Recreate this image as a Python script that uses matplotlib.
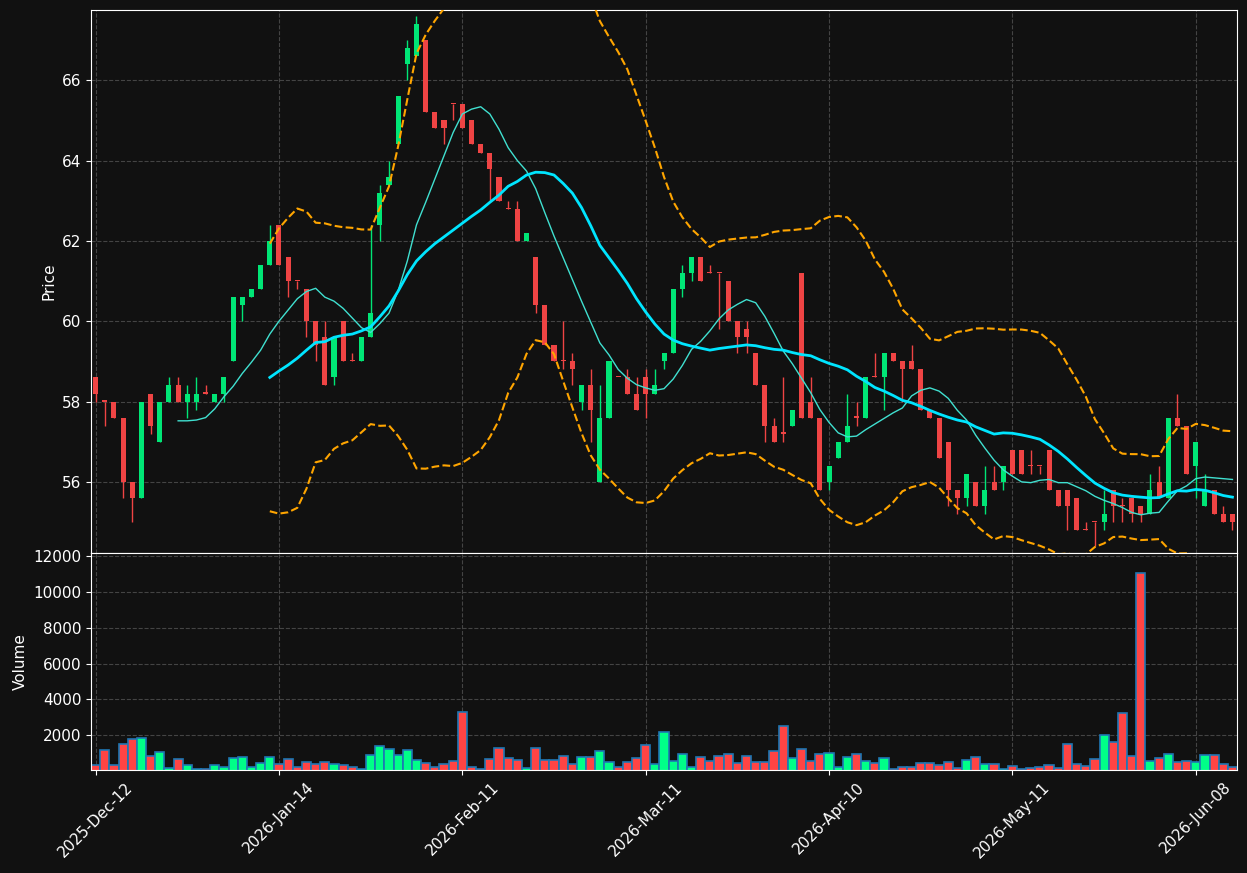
import numpy as np
import pandas as pd
import matplotlib
matplotlib.use("Agg")
import matplotlib.pyplot as plt

# OHLC (one candle per trading day)
opens = [58.6, 58.0, 58.0, 57.6, 56.0, 55.6, 58.2, 57.0, 58.0, 58.4,
         58.0, 58.0, 58.2, 58.0, 58.2, 59.0, 60.4, 60.6, 60.8, 61.4,
         62.4, 61.6, 61.0, 60.8, 60.0, 59.6, 58.6, 60.0, 59.0, 59.0,
         59.6, 62.4, 63.4, 64.4, 66.4, 66.6, 67.0, 65.2, 65.0, 65.4,
         65.4, 65.0, 64.4, 64.2, 63.6, 62.8, 62.8, 62.0, 61.6, 60.4,
         59.4, 59.0, 59.0, 58.0, 58.4, 56.0, 57.6, 58.6, 58.6, 58.2,
         58.6, 58.2, 59.0, 59.2, 60.8, 61.2, 61.6, 61.2, 61.2, 61.0,
         60.0, 59.8, 59.2, 58.4, 57.4, 57.2, 57.4, 61.2, 58.0, 57.6,
         56.0, 56.6, 57.0, 57.6, 57.6, 58.6, 58.6, 59.2, 59.0, 59.0,
         58.8, 57.8, 57.6, 57.0, 55.8, 55.6, 56.0, 55.4, 56.0, 56.0,
         56.8, 56.8, 56.4, 56.4, 56.8, 55.8, 55.8, 55.6, 54.8, 55.0,
         55.0, 55.8, 55.4, 55.6, 55.4, 55.2, 56.0, 55.6, 57.6, 57.4,
         56.4, 55.4, 55.8, 55.2, 55.2]
highs = [58.6, 58.0, 58.0, 57.6, 56.0, 58.0, 58.2, 58.0, 58.6, 58.6,
         58.4, 58.6, 58.4, 58.2, 58.6, 60.6, 60.6, 60.8, 61.4, 62.4,
         62.4, 61.6, 61.0, 60.8, 60.0, 60.0, 59.6, 60.0, 59.2, 59.6,
         62.4, 63.4, 64.0, 65.6, 67.0, 67.6, 67.0, 65.2, 65.0, 65.4,
         65.4, 65.0, 64.4, 64.2, 63.6, 63.0, 63.0, 62.2, 61.6, 60.4,
         59.4, 60.0, 59.2, 58.4, 58.8, 58.4, 59.0, 58.6, 58.8, 58.6,
         58.8, 58.8, 59.2, 60.8, 61.4, 61.6, 61.6, 61.4, 61.2, 61.0,
         60.0, 60.0, 59.2, 58.4, 57.6, 58.6, 57.8, 61.2, 58.6, 57.6,
         56.4, 57.0, 58.2, 58.0, 58.6, 59.2, 59.2, 59.2, 59.0, 59.4,
         58.8, 57.8, 57.6, 57.0, 55.8, 56.2, 56.0, 56.4, 56.4, 56.4,
         56.8, 56.8, 56.8, 56.4, 56.8, 55.8, 55.8, 55.6, 55.0, 55.0,
         55.8, 55.8, 55.6, 55.6, 55.4, 56.2, 56.4, 57.6, 58.2, 57.4,
         57.0, 56.2, 55.8, 55.4, 55.2]
lows = [58.0, 57.4, 57.6, 55.6, 55.0, 55.6, 57.2, 57.0, 58.0, 58.0,
        57.6, 57.8, 58.2, 58.0, 58.0, 59.0, 60.0, 60.6, 60.8, 61.4,
        61.4, 60.6, 60.8, 59.6, 59.0, 58.4, 58.4, 59.0, 59.0, 59.0,
        59.6, 62.0, 63.4, 64.4, 66.0, 66.6, 65.2, 64.8, 64.4, 65.0,
        64.8, 64.4, 64.2, 63.0, 63.0, 62.8, 62.0, 62.0, 60.2, 59.4,
        59.0, 58.8, 58.4, 57.8, 57.0, 56.0, 57.6, 58.6, 58.2, 57.8,
        57.6, 58.2, 58.8, 59.2, 60.6, 61.0, 61.0, 61.2, 59.8, 60.0,
        59.2, 59.2, 58.4, 57.0, 57.0, 57.0, 57.4, 57.6, 57.6, 55.8,
        55.8, 56.6, 57.0, 57.4, 57.6, 58.6, 57.8, 59.0, 58.0, 58.8,
        57.8, 57.6, 56.6, 55.4, 55.2, 55.4, 55.4, 55.2, 55.8, 55.8,
        56.2, 56.2, 56.2, 56.2, 55.8, 55.4, 54.8, 54.8, 54.8, 54.4,
        54.8, 55.0, 55.0, 55.0, 55.0, 55.2, 55.6, 55.6, 57.4, 56.2,
        55.6, 55.4, 55.2, 55.0, 54.8]
closes = [58.2, 58.0, 57.6, 56.0, 55.6, 58.0, 57.4, 58.0, 58.4, 58.0,
          58.2, 58.2, 58.2, 58.2, 58.6, 60.6, 60.6, 60.8, 61.4, 62.0,
          61.4, 61.0, 61.0, 60.0, 59.4, 58.4, 59.6, 59.0, 59.0, 59.6,
          60.2, 63.2, 63.6, 65.6, 66.8, 67.4, 65.2, 64.8, 64.8, 65.4,
          64.8, 64.4, 64.2, 63.8, 63.0, 62.8, 62.0, 62.2, 60.4, 59.4,
          59.0, 59.0, 58.8, 58.4, 57.8, 57.6, 59.0, 58.6, 58.2, 57.8,
          58.2, 58.4, 59.2, 60.8, 61.2, 61.6, 61.0, 61.2, 61.2, 60.0,
          59.6, 59.6, 58.4, 57.4, 57.0, 57.2, 57.8, 57.6, 57.6, 55.8,
          56.4, 57.0, 57.4, 57.6, 58.6, 58.6, 59.2, 59.0, 58.8, 58.8,
          57.8, 57.6, 56.6, 55.8, 55.6, 56.2, 55.4, 55.8, 55.8, 56.4,
          56.2, 56.2, 56.4, 56.4, 55.8, 55.4, 55.4, 54.8, 54.8, 55.0,
          55.2, 55.4, 55.4, 55.2, 55.2, 55.8, 55.6, 57.6, 57.4, 56.2,
          57.0, 55.8, 55.2, 55.0, 55.0]
volumes = [330, 1160, 330, 1520, 1800, 1830, 830, 1050, 160, 660,
           330, 140, 140, 330, 250, 720, 770, 220, 440, 770,
           380, 660, 250, 490, 380, 490, 380, 330, 220, 100,
           890, 1390, 1220, 890, 1160, 610, 440, 250, 380, 550,
           3280, 220, 100, 660, 1280, 720, 610, 160, 1280, 610,
           610, 830, 380, 770, 770, 1110, 490, 220, 490, 720,
           1440, 380, 2170, 550, 940, 220, 770, 550, 830, 940,
           440, 830, 490, 490, 1110, 2500, 720, 1220, 550, 940,
           1000, 250, 770, 940, 550, 440, 720, 140, 250, 250,
           440, 440, 330, 490, 160, 610, 770, 380, 380, 140,
           270, 100, 160, 220, 330, 160, 1520, 380, 270, 660,
           2000, 1610, 3230, 830, 11030, 550, 720, 940, 490, 550,
           490, 890, 890, 380, 250]

tick_pos = [0, 20, 40, 60, 80, 100, 120]
tick_labels = ["2025-Dec-12", "2026-Jan-14", "2026-Feb-11", "2026-Mar-11",
               "2026-Apr-10", "2026-May-11", "2026-Jun-08"]

df = pd.DataFrame({"open": opens, "high": highs, "low": lows,
                   "close": closes, "volume": volumes})
x = np.arange(len(df))
ma10 = df["close"].rolling(10).mean()
ma20 = df["close"].rolling(20).mean()
sd20 = df["close"].rolling(20).std()
bb_up = ma20 + 2 * sd20
bb_lo = ma20 - 2 * sd20

BG = "#111111"
up_c, dn_c = "#00e676", "#ef4444"
vol_up, vol_dn = "#00ff88", "#ff4444"

fig = plt.figure(figsize=(12.47, 8.73), dpi=100, facecolor=BG)
ax = fig.add_axes([0.073, 0.3666, 0.919, 0.622], facecolor=BG)
axv = fig.add_axes([0.073, 0.118, 0.919, 0.2486], facecolor=BG, sharex=ax)

up = df["close"] > df["open"]
colors = np.where(up, up_c, dn_c)
body_lo = np.minimum(df["open"], df["close"])
body_h = np.maximum(np.abs(df["close"] - df["open"]), 0.03)

ax.vlines(x, df["low"], df["high"], colors=colors, linewidth=1.0, zorder=2)
ax.bar(x, body_h, bottom=body_lo, width=0.55, color=colors, linewidth=0, zorder=3)

ax.plot(x, ma10, color="#40e0d0", linewidth=1.0, zorder=4)
ax.plot(x, ma20, color="#00e5ff", linewidth=2.0, zorder=4)
ax.plot(x, bb_up, color="#ffa500", linewidth=1.5, linestyle="--", zorder=4)
ax.plot(x, bb_lo, color="#ffa500", linewidth=1.5, linestyle="--", zorder=4)

vcolors = np.where(up, vol_up, vol_dn)
axv.bar(x, df["volume"], width=1.0, color=vcolors, edgecolor="#1f77b4", linewidth=1.2)

ax.set_xlim(-0.5, len(df) - 0.5)
ax.set_ylim(54.23, 67.75)
axv.set_ylim(65, 12170)
ax.set_yticks([56, 58, 60, 62, 64, 66])
axv.set_yticks([2000, 4000, 6000, 8000, 10000, 12000])
axv.set_xticks(tick_pos)
axv.set_xticklabels(tick_labels, rotation=45)
plt.setp(ax.get_xticklabels(), visible=False)
ax.tick_params(axis="x", length=0)

for a in (ax, axv):
    a.grid(True, color="#444444", linestyle="--", linewidth=0.8)
    a.set_axisbelow(True)
    a.tick_params(colors="white", labelsize=11)
    for s in a.spines.values():
        s.set_color("white")
ax.set_ylabel("Price", color="white", fontsize=11)
axv.set_ylabel("Volume", color="white", fontsize=11)

fig.savefig("out.png", dpi=100, facecolor=BG)
